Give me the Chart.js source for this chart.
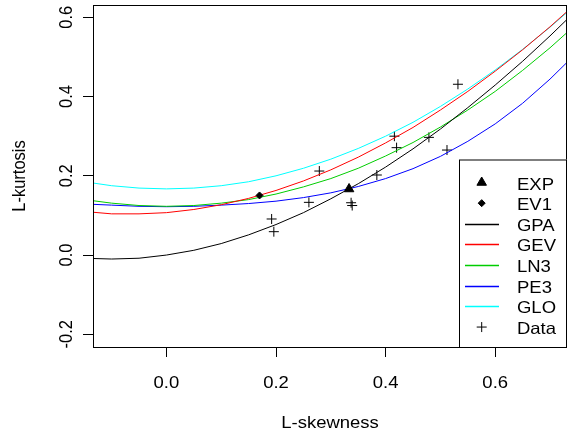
<!DOCTYPE html>
<html>
<head>
<meta charset="utf-8">
<script src="https://cdn.jsdelivr.net/npm/chart.js@4/dist/chart.umd.min.js"></script>
<style>
  html, body { margin: 0; padding: 0; background: #fff; overflow: hidden; }
  canvas { display: block; }
</style>
</head>
<body>
<canvas id="grafico" width="568" height="436"></canvas>
<script>
// valores
const tau3 = [-0.15, -0.1, -0.05, 0, 0.05, 0.1, 0.15, 0.2, 0.25, 0.3, 0.35, 0.4, 0.45, 0.5, 0.55, 0.6, 0.65, 0.7, 0.75];
const gpa = [-0.008, -0.010, -0.008, 0.000, 0.012, 0.029, 0.051, 0.077, 0.107, 0.142, 0.180, 0.222, 0.268, 0.318, 0.372, 0.429, 0.489, 0.553, 0.620];
const gev = [0.110, 0.104, 0.104, 0.107, 0.115, 0.127, 0.143, 0.163, 0.187, 0.215, 0.247, 0.283, 0.322, 0.366, 0.413, 0.464, 0.518, 0.576, 0.638];
const ln3 = [0.140, 0.131, 0.125, 0.123, 0.125, 0.131, 0.140, 0.154, 0.172, 0.193, 0.219, 0.250, 0.284, 0.323, 0.366, 0.413, 0.466, 0.523, 0.585];
const pe3 = [0.129, 0.126, 0.123, 0.122, 0.123, 0.126, 0.130, 0.136, 0.145, 0.157, 0.173, 0.193, 0.218, 0.249, 0.287, 0.331, 0.383, 0.444, 0.512];
const glo = [0.185, 0.175, 0.169, 0.167, 0.169, 0.175, 0.185, 0.200, 0.219, 0.242, 0.269, 0.300, 0.335, 0.375, 0.419, 0.467, 0.519, 0.575, 0.635];

const expPonto = [0.3333, 0.1667];
const ev1Ponto = [0.1699, 0.1504];

const dadosX = [0.532, 0.416, 0.420, 0.479, 0.512, 0.279, 0.384, 0.260, 0.337, 0.339, 0.192, 0.196];
const dadosY = [0.431, 0.300, 0.271, 0.297, 0.265, 0.212, 0.202, 0.133, 0.132, 0.125, 0.091, 0.059];

const ticksX = [0, 0.2, 0.4, 0.6];
const ticksY = [-0.2, 0, 0.2, 0.4, 0.6];

const fonte = '16.5px "Liberation Sans", Arial, sans-serif';
const esticar = 1.12; // o texto do original é um pouco mais largo

function pares(xs, ys) {
    return xs.map((x, i) => ({ x: x, y: ys[i] }));
}

function curva(nome, valores, cor) {
    return {
        label: nome,
        data: pares(tau3, valores),
        showLine: true,
        borderColor: cor,
        backgroundColor: cor,
        borderWidth: 1,
        pointRadius: 0,
        tension: 0
    };
}

const datasets = [
    { label: 'EXP', data: [{ x: expPonto[0], y: expPonto[1] }], pointStyle: 'triangle', pointRadius: 5.5,
      backgroundColor: '#000', borderColor: '#000', borderWidth: 1 },
    { label: 'EV1', data: [{ x: ev1Ponto[0], y: ev1Ponto[1] }], pointStyle: 'rectRot', pointRadius: 3.5,
      backgroundColor: '#000', borderColor: '#000', borderWidth: 1 },
    curva('GPA', gpa, '#000000'),
    curva('GEV', gev, '#FF0000'),
    curva('LN3', ln3, '#00CD00'),
    curva('PE3', pe3, '#0000FF'),
    curva('GLO', glo, '#00FFFF'),
    { label: 'Data', data: pares(dadosX, dadosY), pointStyle: 'cross', pointRadius: 5,
      borderColor: '#000', backgroundColor: '#000', borderWidth: 1 }
];

function texto(ctx, s, x, y, alinhar) {
    ctx.save();
    ctx.translate(x, y);
    ctx.scale(esticar, 1);
    ctx.textAlign = alinhar;
    ctx.fillText(s, 0, 0);
    ctx.restore();
}

function textoVertical(ctx, s, x, y) {
    ctx.save();
    ctx.translate(x, y);
    ctx.rotate(-Math.PI / 2);
    ctx.scale(1, esticar);
    ctx.textAlign = 'center';
    ctx.fillText(s, 0, 0);
    ctx.restore();
}

// moldura, rótulos e legenda no estilo do R
const estiloR = {
    id: 'estiloR',
    afterDraw(chart) {
        const ctx = chart.ctx;
        const a = chart.chartArea;
        const sx = chart.scales.x;
        const sy = chart.scales.y;
        ctx.save();
        ctx.strokeStyle = '#000';
        ctx.lineWidth = 1;
        ctx.strokeRect(a.left + 0.5, a.top + 0.5, a.right - a.left - 1, a.bottom - a.top);

        ctx.fillStyle = '#000';
        ctx.font = fonte;
        ctx.textBaseline = 'alphabetic';
        ticksX.forEach(v => texto(ctx, v.toFixed(1), sx.getPixelForValue(v), 388, 'center'));
        ticksY.forEach(v => textoVertical(ctx, v.toFixed(1), 72, sy.getPixelForValue(v)));
        texto(ctx, 'L-skewness', (a.left + a.right) / 2, 428, 'center');
        textoVertical(ctx, 'L-kurtosis', 25, (a.top + a.bottom) / 2);

        // legenda
        const bx = 459, by = 159.5;
        ctx.fillStyle = '#fff';
        ctx.fillRect(bx, by, a.right - bx, a.bottom - by);
        ctx.strokeStyle = '#000';
        ctx.strokeRect(bx + 0.5, by + 0.5, a.right - bx - 1, a.bottom - by);
        chart.data.datasets.forEach((ds, i) => {
            const base = 189.5 + i * 20.65;
            const cy = base - 7;
            ctx.fillStyle = '#000';
            texto(ctx, ds.label, 517, base, 'left');
            if (ds.showLine) {
                ctx.strokeStyle = ds.borderColor;
                ctx.lineWidth = 1.5;
                ctx.beginPath();
                ctx.moveTo(465, Math.round(cy) + 0.5);
                ctx.lineTo(499, Math.round(cy) + 0.5);
                ctx.stroke();
            } else {
                ctx.fillStyle = '#000';
                ctx.strokeStyle = '#000';
                ctx.lineWidth = 1;
                Chart.helpers.drawPoint(ctx, {
                    pointStyle: ds.pointStyle,
                    radius: ds.pointRadius,
                    borderWidth: 1
                }, 481.7, cy);
            }
        });
        ctx.restore();
    }
};

new Chart(document.getElementById('grafico'), {
    type: 'scatter',
    data: { datasets: datasets },
    options: {
        responsive: false,
        animation: false,
        layout: { autoPadding: false, padding: { top: 5, right: 1, left: 0, bottom: 0 } },
        plugins: { legend: { display: false }, tooltip: { enabled: false } },
        scales: {
            x: {
                type: 'linear',
                min: -0.134,
                max: 0.731,
                afterFit: s => { s.height = 89; },
                afterBuildTicks: s => { s.ticks = ticksX.map(v => ({ value: v })); },
                ticks: { display: false },
                border: { display: false },
                grid: { drawOnChartArea: false, tickLength: 10, color: '#000' }
            },
            y: {
                type: 'linear',
                min: -0.232,
                max: 0.631,
                afterFit: s => { s.width = 93; },
                afterBuildTicks: s => { s.ticks = ticksY.map(v => ({ value: v })); },
                ticks: { display: false },
                border: { display: false },
                grid: { drawOnChartArea: false, tickLength: 10, color: '#000' }
            }
        }
    },
    plugins: [estiloR]
});
</script>
</body>
</html>
